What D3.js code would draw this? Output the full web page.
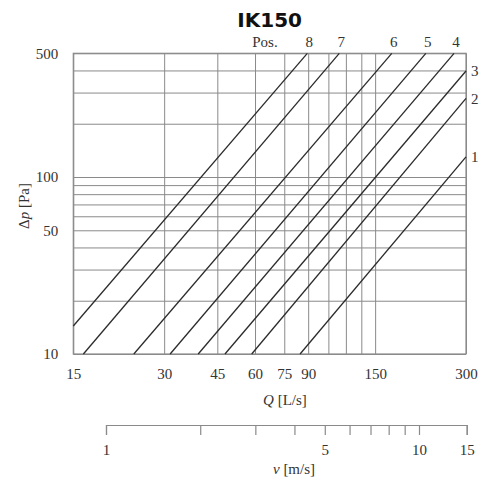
<!DOCTYPE html>
<html>
<head>
<meta charset="utf-8">
<script src="https://cdn.jsdelivr.net/npm/d3@7/dist/d3.min.js"></script>
<style>
  html, body { margin: 0; padding: 0; background: #fff; }
  svg { display: block; }
  .serif { font-family: "Liberation Serif", "DejaVu Serif", serif; }
</style>
</head>
<body>
<div id="chart"></div>
<script>
// Damper positions: each curve runs from (qFrom, dpFrom) to (qTo, dpTo)
const positions = ["1", "2", "3", "4", "5", "6", "7", "8"];
const qFrom  = [84.6, 58.5, 47.7, 38.9, 31.4, 23.8, 16.2, 15];
const dpFrom = [10, 10, 10, 10, 10, 10, 10, 14.4];
const qTo    = [300, 300, 300, 273.8, 220.8, 170.3, 114.1, 89.4];
const dpTo   = [130, 278, 397, 500, 500, 500, 500, 500];

// Axis ticks
const qGrid   = [15, 30, 45, 60, 75, 90, 105, 120, 135, 150, 300];
const qLabels = [15, 30, 45, 60, 75, 90, 150, 300];
const dpGrid   = [10, 20, 30, 40, 50, 60, 70, 80, 90, 100, 200, 300, 400, 500];
const dpLabels = [10, 50, 100, 500];
const vTicks  = [1, 2, 3, 4, 5, 6, 7, 8, 9, 10, 15];
const vLabels = [1, 5, 10, 15];

const W = 488, H = 483;
const plot = { left: 73.3, right: 466, top: 53.3, bottom: 354 };

const svg = d3.select("#chart").append("svg")
  .attr("width", W).attr("height", H);
svg.append("rect").attr("width", W).attr("height", H).attr("fill", "#fff");

const x = d3.scaleLog().domain([15, 300]).range([plot.left, plot.right]);
const y = d3.scaleLog().domain([10, 500]).range([plot.bottom, plot.top]);
// velocity scale printed below the flow axis
const v = d3.scaleLog().domain([1, 10, 15]).range([106, 419, 466.7]);

const gridColor = "#8a8a8a";
const textColor = "#333";

// vertical grid + Q labels
const xAxis = d3.axisBottom(x)
  .tickValues(qGrid)
  .tickSize(-(plot.bottom - plot.top))
  .tickSizeOuter(0)
  .tickPadding(14)
  .tickFormat(d => qLabels.includes(d) ? String(d) : "");
const gx = svg.append("g")
  .attr("transform", `translate(0,${plot.bottom})`)
  .call(xAxis);
gx.select(".domain").remove();
gx.selectAll(".tick line").attr("stroke", gridColor).attr("stroke-width", 1);
gx.selectAll(".tick text")
  .attr("class", "serif").attr("font-size", 15).attr("fill", textColor);

// horizontal grid + Δp labels
const yAxis = d3.axisLeft(y)
  .tickValues(dpGrid)
  .tickSize(-(plot.right - plot.left))
  .tickSizeOuter(0)
  .tickPadding(15)
  .tickFormat(d => dpLabels.includes(d) ? String(d) : "");
const gy = svg.append("g")
  .attr("transform", `translate(${plot.left},0)`)
  .call(yAxis);
gy.select(".domain").remove();
gy.selectAll(".tick line").attr("stroke", gridColor).attr("stroke-width", 1);
gy.selectAll(".tick text")
  .attr("class", "serif").attr("font-size", 15).attr("fill", textColor);

// frame
svg.append("rect")
  .attr("x", plot.left).attr("y", plot.top)
  .attr("width", plot.right - plot.left).attr("height", plot.bottom - plot.top)
  .attr("fill", "none").attr("stroke", gridColor).attr("stroke-width", 1.2);

// pressure-drop curves
const curves = positions.map((p, i) => ({
  pos: p,
  pts: [[qFrom[i], dpFrom[i]], [qTo[i], dpTo[i]]]
}));
const line = d3.line().x(d => x(d[0])).y(d => y(d[1]));
svg.append("g").selectAll("path").data(curves).join("path")
  .attr("d", d => line(d.pts))
  .attr("fill", "none").attr("stroke", "#2b2b2b").attr("stroke-width", 1.3);

// position labels: along the top for curves ending at 500 Pa, right side otherwise
const topCurves = curves.filter(c => c.pts[1][1] >= 500);
const sideCurves = curves.filter(c => c.pts[1][1] < 500);
svg.append("text").attr("class", "serif")
  .attr("x", 265).attr("y", 47).attr("text-anchor", "middle")
  .attr("font-size", 15).attr("fill", textColor).text("Pos.");
svg.append("g").selectAll("text").data(topCurves).join("text")
  .attr("class", "serif")
  .attr("x", d => x(d.pts[1][0]) + 2)
  .attr("y", 47)
  .attr("text-anchor", "middle")
  .attr("font-size", 15).attr("fill", textColor)
  .text(d => d.pos);
svg.append("g").selectAll("text").data(sideCurves).join("text")
  .attr("class", "serif")
  .attr("x", plot.right + 5)
  .attr("y", d => y(d.pts[1][1]))
  .attr("dy", "0.35em")
  .attr("font-size", 15).attr("fill", textColor)
  .text(d => d.pos);

// title
svg.append("text")
  .attr("x", (plot.left + plot.right) / 2).attr("y", 27)
  .attr("text-anchor", "middle")
  .attr("font-family", "DejaVu Sans, sans-serif")
  .attr("font-weight", "bold").attr("font-size", 20).attr("fill", "#111")
  .text("IK150");

// axis titles
const qTitle = svg.append("text").attr("class", "serif")
  .attr("x", 285).attr("y", 405).attr("text-anchor", "middle")
  .attr("font-size", 15).attr("fill", textColor);
qTitle.append("tspan").attr("font-style", "italic").text("Q");
qTitle.append("tspan").text(" [L/s]");

const yTitle = svg.append("text").attr("class", "serif")
  .attr("transform", "translate(29,206) rotate(-90)")
  .attr("text-anchor", "middle")
  .attr("font-size", 15).attr("fill", textColor);
yTitle.append("tspan").text("Δ");
yTitle.append("tspan").attr("font-style", "italic").text("p");
yTitle.append("tspan").text(" [Pa]");

// velocity scale
const vAxis = d3.axisBottom(v)
  .tickValues(vTicks)
  .tickSize(10)
  .tickSizeOuter(10)
  .tickPadding(9)
  .tickFormat(d => vLabels.includes(d) ? String(d) : "");
const gv = svg.append("g")
  .attr("transform", "translate(0,425)")
  .call(vAxis);
gv.select(".domain").attr("stroke", gridColor).attr("stroke-width", 1.2);
gv.selectAll(".tick line").attr("stroke", gridColor).attr("stroke-width", 1.2);
gv.selectAll(".tick text")
  .attr("class", "serif").attr("font-size", 15).attr("fill", textColor);

const vTitle = svg.append("text").attr("class", "serif")
  .attr("x", 294).attr("y", 474).attr("text-anchor", "middle")
  .attr("font-size", 15).attr("fill", textColor);
vTitle.append("tspan").attr("font-style", "italic").text("v");
vTitle.append("tspan").text(" [m/s]");
</script>
</body>
</html>
